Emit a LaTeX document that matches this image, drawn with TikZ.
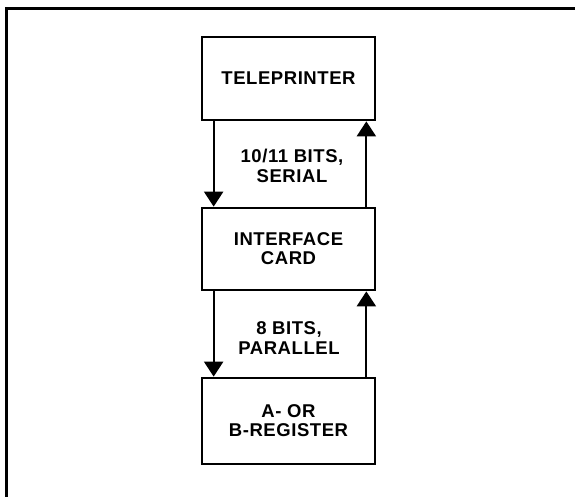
\documentclass[tikz,border=0pt]{standalone}
\usepackage{fontspec}
\setmainfont{Liberation Sans}[LetterSpace=3]
\usetikzlibrary{arrows.meta}

\tikzset{
  unitbox/.style={draw, line width=2.7pt, minimum width=173pt, inner sep=0pt,
    align=center, font=\bfseries\fontsize{18.5}{19}\selectfont},
  buslabel/.style={inner sep=0pt, align=center, font=\bfseries\fontsize{18.5}{20}\selectfont},
  busline/.style={line width=2.2pt, -{Triangle[width=19pt,length=15pt]}}
}

\begin{document}
\begin{tikzpicture}[x=1pt,y=-1pt]
\useasboundingbox (0,0) rectangle (575,497);
% frame
\draw [line width=3pt] (6,497) -- (6,9) -- (575,9);
% units
\node [unitbox, minimum height=83pt] (tele) at (288.5,78.5) {TELEPRINTER};
\node [unitbox, minimum height=82pt] (iface) at (288.5,249) {INTERFACE\\CARD};
\node [unitbox, minimum height=86pt] (reg) at (288.5,421) {A- OR\\B-REGISTER};
% links
\draw [busline] ([xshift=13pt]tele.south west) -- ([xshift=13pt]iface.north west);
\draw [busline] ([xshift=-10pt]iface.north east) -- ([xshift=-10pt]tele.south east);
\node [buslabel] (serial) at (292,166) {10/11 BITS,\\SERIAL};
\draw [busline] ([xshift=13pt]iface.south west) -- ([xshift=13pt]reg.north west);
\draw [busline] ([xshift=-10pt]reg.north east) -- ([xshift=-10pt]iface.south east);
\node [buslabel] (parallel) at (289,338) {8 BITS,\\PARALLEL};
\end{tikzpicture}
\end{document}
